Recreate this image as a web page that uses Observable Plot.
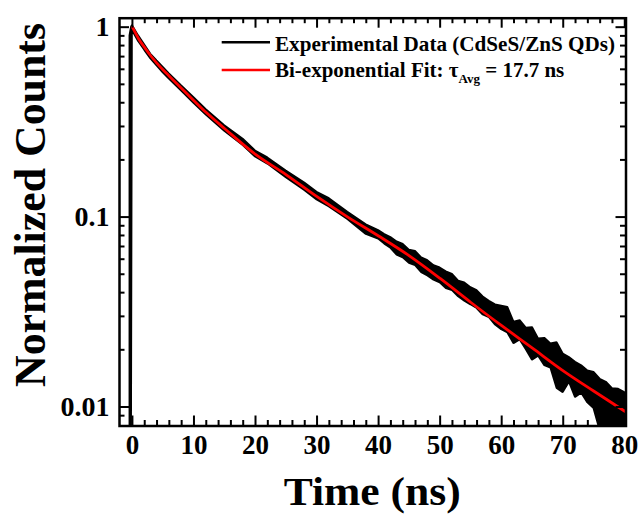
<!DOCTYPE html>
<html><head><meta charset="utf-8">
<script src="https://cdn.jsdelivr.net/npm/d3@7"></script>
<script src="https://cdn.jsdelivr.net/npm/@observablehq/plot@0.6"></script>
<style>body{margin:0;background:#fff} svg{display:block}</style>
</head><body><div id="chart"></div>
<script>
// Bi-exponential fit (red)
const fitTime   = [0, 1, 2, 3, 4, 5, 6, 8, 10, 12, 15, 20, 25, 30, 35, 40, 45, 50, 55, 60, 65, 70, 75, 80];
const fitCounts = [1.0, 0.87, 0.78, 0.705, 0.645, 0.595, 0.552, 0.475, 0.41, 0.355, 0.292, 0.214, 0.167, 0.128, 0.100, 0.0795, 0.0625, 0.0475, 0.0355, 0.0268, 0.0204, 0.0155, 0.0121, 0.0095];

const expTime = [-0.4, -0.15, 0, 1, 2, 3, 4, 5, 6, 8, 10, 12, 15, 18, 20, 22, 25, 28, 30, 32, 35, 38, 40, 41, 42, 43, 44, 45, 46, 47, 48, 49, 50, 51, 52, 53, 54, 55, 56, 57, 58, 59, 60, 61, 62, 63, 64, 65, 66, 67, 68, 69, 70, 71, 72, 73, 74, 75, 76, 77, 78, 79, 80];
const expLow  = [0.006, 0.006, 0.96, 0.84, 0.755, 0.68, 0.625, 0.575, 0.532, 0.46, 0.397, 0.344, 0.283, 0.238, 0.207, 0.19, 0.161, 0.138, 0.123, 0.113, 0.097, 0.081, 0.0765, 0.072, 0.0685, 0.063, 0.061, 0.057, 0.0555, 0.051, 0.049, 0.0465, 0.045, 0.042, 0.041, 0.038, 0.036, 0.0345, 0.033, 0.0305, 0.0295, 0.027, 0.0255, 0.0245, 0.0215, 0.0225, 0.020, 0.0176, 0.0185, 0.0165, 0.016, 0.0125, 0.0119, 0.0135, 0.0112, 0.0118, 0.0105, 0.0098, 0.0075, 0.007, 0.007, 0.007, 0.007];
const expHigh = [0.9, 1.0, 1.02, 0.90, 0.805, 0.72, 0.665, 0.615, 0.568, 0.49, 0.425, 0.368, 0.303, 0.257, 0.223, 0.205, 0.175, 0.151, 0.135, 0.125, 0.106, 0.091, 0.085, 0.081, 0.078, 0.074, 0.0718, 0.067, 0.066, 0.061, 0.059, 0.0555, 0.054, 0.0515, 0.050, 0.046, 0.045, 0.0425, 0.041, 0.038, 0.036, 0.0345, 0.034, 0.0335, 0.028, 0.0285, 0.026, 0.0262, 0.0228, 0.023, 0.0215, 0.0218, 0.019, 0.0182, 0.0172, 0.0165, 0.0155, 0.0152, 0.014, 0.0135, 0.0125, 0.0124, 0.0119];

// Axes
const xDomain = [-2.1, 80.2];
const yDomain = [0.00794, 1.115];
const xMajorTicks = [0, 10, 20, 30, 40, 50, 60, 70, 80];
const xMinorTicks = [2, 4, 6, 8, 12, 14, 16, 18, 22, 24, 26, 28, 32, 34, 36, 38, 42, 44, 46, 48, 52, 54, 56, 58, 62, 64, 66, 68, 72, 74, 76, 78];
const yMajorTicks = [1, 0.1, 0.01];
const yMinorTicks = [0.9, 0.8, 0.7, 0.6, 0.5, 0.4, 0.3, 0.2, 0.09, 0.08, 0.07, 0.06, 0.05, 0.04, 0.03, 0.02, 0.009];
const xTitle = "Time (ns)";
const yTitle = "Normalized Counts";
const legendExp = "Experimental Data (CdSeS/ZnS QDs)";
const legendFitMain = "Bi-exponential Fit: \u03C4";
const legendFitSub = "Avg";
const legendFitTail = " = 17.7 ns";

const fitData = fitTime.map((t, i) => ({t, v: fitCounts[i]}));
const expData = expTime.map((t, i) => ({t, lo: expLow[i], hi: expHigh[i]}));

const W = 641, H = 515, mL = 119, mR = 15.5, mT = 17.7, mB = 89.5;
const innerW = W - mL - mR, innerH = H - mT - mB;
const FONT = "'Liberation Serif', 'Times New Roman', serif";
const majorLen = 10, minorLen = 5.5;

const plot = Plot.plot({
  width: W, height: H,
  marginLeft: mL, marginRight: mR, marginTop: mT, marginBottom: mB,
  style: {fontFamily: FONT, fontWeight: "bold", background: "white", color: "black"},
  x: {domain: xDomain},
  y: {type: "log", domain: yDomain},
  marks: [
    Plot.areaY(expData, {x: "t", y1: "lo", y2: "hi", fill: "black", stroke: "black", strokeWidth: 1.8, strokeLinejoin: "miter", clip: true}),
    Plot.line(fitData, {x: "t", y: "v", stroke: "#ff0000", strokeWidth: 2.8, curve: "monotone-x", clip: true}),
    // inward ticks: bottom, top
    Plot.tickX(xMajorTicks, {x: d => d, insetTop: innerH - majorLen, stroke: "black", strokeWidth: 2}),
    Plot.tickX(xMinorTicks, {x: d => d, insetTop: innerH - minorLen, stroke: "black", strokeWidth: 2}),
    Plot.tickX(xMajorTicks, {x: d => d, insetBottom: innerH - majorLen, stroke: "black", strokeWidth: 2}),
    Plot.tickX(xMinorTicks, {x: d => d, insetBottom: innerH - minorLen, stroke: "black", strokeWidth: 2}),
    // inward ticks: left, right
    Plot.tickY(yMajorTicks, {y: d => d, insetRight: innerW - majorLen, stroke: "black", strokeWidth: 2}),
    Plot.tickY(yMinorTicks, {y: d => d, insetRight: innerW - minorLen, stroke: "black", strokeWidth: 2}),
    Plot.tickY(yMajorTicks, {y: d => d, insetLeft: innerW - majorLen, stroke: "black", strokeWidth: 2}),
    Plot.tickY(yMinorTicks, {y: d => d, insetLeft: innerW - minorLen, stroke: "black", strokeWidth: 2}),
    Plot.frame({stroke: "black", strokeWidth: 2.5}),
    Plot.axisX(xMajorTicks, {anchor: "bottom", tickSize: 0, tickPadding: 9, fontSize: 27, fontWeight: "bold", tickFormat: d => String(d), label: null}),
    Plot.axisY(yMajorTicks, {anchor: "left", tickSize: 0, tickPadding: 10, fontSize: 28, fontWeight: "bold", tickFormat: d => String(d), label: null})
  ]
});

const svg = d3.select(plot);
// axis titles
svg.append("text")
  .attr("x", mL + innerW / 2).attr("y", 505)
  .attr("text-anchor", "middle")
  .attr("font-family", FONT).attr("font-weight", "bold").attr("font-size", 40)
  .attr("textLength", 177).attr("lengthAdjust", "spacingAndGlyphs")
  .attr("fill", "black")
  .text(xTitle);
svg.append("text")
  .attr("transform", "translate(45,205) rotate(-90)")
  .attr("text-anchor", "middle")
  .attr("font-family", FONT).attr("font-weight", "bold").attr("font-size", 45)
  .attr("textLength", 364).attr("lengthAdjust", "spacingAndGlyphs")
  .attr("fill", "black")
  .text(yTitle);

// legend
const lg = svg.append("g").attr("font-family", FONT).attr("font-weight", "bold").attr("fill", "black").attr("text-anchor", "start");
lg.append("line").attr("x1", 221.7).attr("x2", 270).attr("y1", 42.3).attr("y2", 42.3).attr("stroke", "black").attr("stroke-width", 2.5);
lg.append("line").attr("x1", 221.7).attr("x2", 270).attr("y1", 70).attr("y2", 70).attr("stroke", "#ff0000").attr("stroke-width", 2.5);
lg.append("text").attr("x", 275).attr("y", 50.7).attr("font-size", 21).attr("text-anchor", "start")
  .attr("textLength", 340).attr("lengthAdjust", "spacingAndGlyphs").text(legendExp);
const t2 = lg.append("text").attr("x", 275).attr("y", 77.3).attr("font-size", 21).attr("text-anchor", "start");
t2.append("tspan").text(legendFitMain);
t2.append("tspan").attr("font-size", 13).attr("dy", 6).text(legendFitSub);
t2.append("tspan").attr("dy", -6).text(legendFitTail);

document.getElementById("chart").appendChild(plot);
</script>
</body></html>
